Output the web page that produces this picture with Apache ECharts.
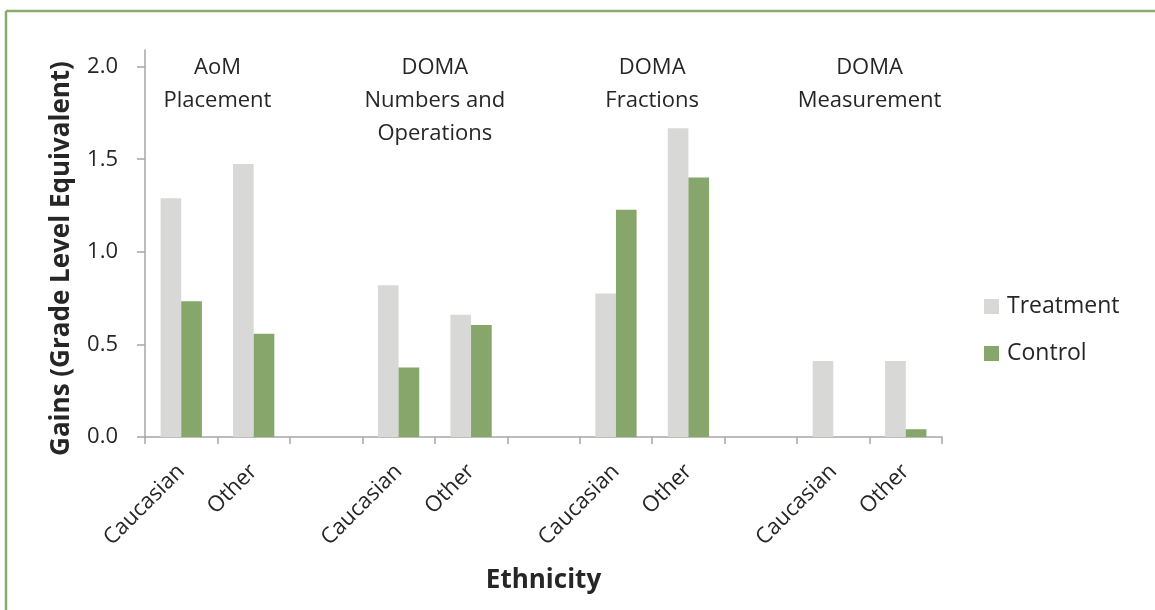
<!DOCTYPE html>
<html>
<head>
<meta charset="utf-8">
<script src="https://cdn.jsdelivr.net/npm/echarts@6/dist/echarts.min.js"></script>
<style>
  html, body { margin: 0; padding: 0; background: #ffffff; }
  #chart { width: 1155px; height: 610px; }
</style>
</head>
<body>
<div id="chart"></div>
<script>
// Categories along the x axis; blank entries separate the four assessments.
const categories = ['Caucasian', 'Other', '', 'Caucasian', 'Other', '', 'Caucasian', 'Other', '', 'Caucasian', 'Other'];
// Gains (grade level equivalent) per ethnicity and assessment.
const treatment = [1.29, 1.475, null, 0.82, 0.66, null, 0.775, 1.667, null, 0.41, 0.41];
const control   = [0.733, 0.557, null, 0.375, 0.605, null, 1.227, 1.402, null, 0, 0.042];
// Assessment headings, each centred over its pair of categories.
const groupTitles = ['AoM\nPlacement', 'DOMA\nNumbers and\nOperations', 'DOMA\nFractions', 'DOMA\nMeasurement'];
const groupFirstIndex = [0, 3, 6, 9];
const yTicks = [0, 0.5, 1.0, 1.5, 2.0];

const FONT = '"Open Sans", "Liberation Sans", sans-serif';
const TEXT = '#262626';
const AXIS = '#a6a6a6';
const FRAME = '#8aab6e';

const chart = echarts.init(document.getElementById('chart'), null, { renderer: 'canvas' });

const option = {
  backgroundColor: '#ffffff',
  animation: false,
  textStyle: { fontFamily: FONT, color: TEXT },
  grid: { left: 145, right: 213, top: 50, bottom: 173, containLabel: false },
  legend: {
    orient: 'vertical',
    left: 979,
    top: 290,
    itemWidth: 15,
    itemHeight: 15,
    itemGap: 24,
    icon: 'rect',
    textStyle: { fontFamily: FONT, fontSize: 23, color: TEXT, padding: [0, 0, 0, 3] },
    data: ['Treatment', 'Control']
  },
  xAxis: {
    type: 'category',
    data: categories,
    name: 'Ethnicity',
    nameLocation: 'middle',
    nameGap: 131,
    nameTextStyle: { fontFamily: FONT, fontSize: 26, fontWeight: 'bold', color: TEXT },
    axisLine: { lineStyle: { color: AXIS, width: 1.5 } },
    axisTick: { show: true, alignWithLabel: false, interval: 0, length: 7, lineStyle: { color: AXIS, width: 1.5 } },
    axisLabel: { interval: 0, rotate: 45, margin: 31, fontFamily: FONT, fontSize: 22, color: TEXT }
  },
  yAxis: {
    type: 'value',
    min: 0,
    max: 2.09,
    interval: 0.5,
    name: 'Gains (Grade Level Equivalent)',
    nameLocation: 'middle',
    nameRotate: 90,
    nameGap: 70,
    nameTextStyle: { fontFamily: FONT, fontSize: 26, fontWeight: 'bold', color: TEXT, padding: [0, 30, 0, 0] },
    splitLine: { show: false },
    axisLine: { show: true, lineStyle: { color: AXIS, width: 1.5 } },
    axisTick: { show: true, inside: false, length: 8, customValues: yTicks, lineStyle: { color: AXIS, width: 1.5 } },
    axisLabel: {
      customValues: yTicks,
      margin: 27,
      fontFamily: FONT,
      fontSize: 22,
      color: TEXT,
      formatter: v => v.toFixed(1)
    }
  },
  series: [
    {
      name: 'Treatment',
      type: 'bar',
      data: treatment,
      barGap: '0%',
      barCategoryGap: '43%',
      itemStyle: { color: '#d8d9d7' }
    },
    {
      name: 'Control',
      type: 'bar',
      data: control,
      itemStyle: { color: '#87a66c' }
    }
  ]
};

chart.setOption(option);

// Frame lines along the top and left edges, plus the assessment headings
// positioned from the category axis.
const graphics = [
  { type: 'line', shape: { x1: 6, y1: 11, x2: 1155, y2: 11 }, style: { stroke: FRAME, lineWidth: 2.5 } },
  { type: 'line', shape: { x1: 6, y1: 11, x2: 6, y2: 610 }, style: { stroke: FRAME, lineWidth: 2.5 } }
];
groupTitles.forEach((title, i) => {
  const a = chart.convertToPixel({ xAxisIndex: 0 }, groupFirstIndex[i]);
  const b = chart.convertToPixel({ xAxisIndex: 0 }, groupFirstIndex[i] + 1);
  graphics.push({
    type: 'text',
    x: (a + b) / 2,
    y: 51,
    style: {
      text: title,
      fontFamily: FONT,
      fontSize: 22,
      lineHeight: 33,
      fill: TEXT,
      align: 'center',
      verticalAlign: 'top'
    }
  });
});
chart.setOption({ graphic: graphics });
</script>
</body>
</html>
